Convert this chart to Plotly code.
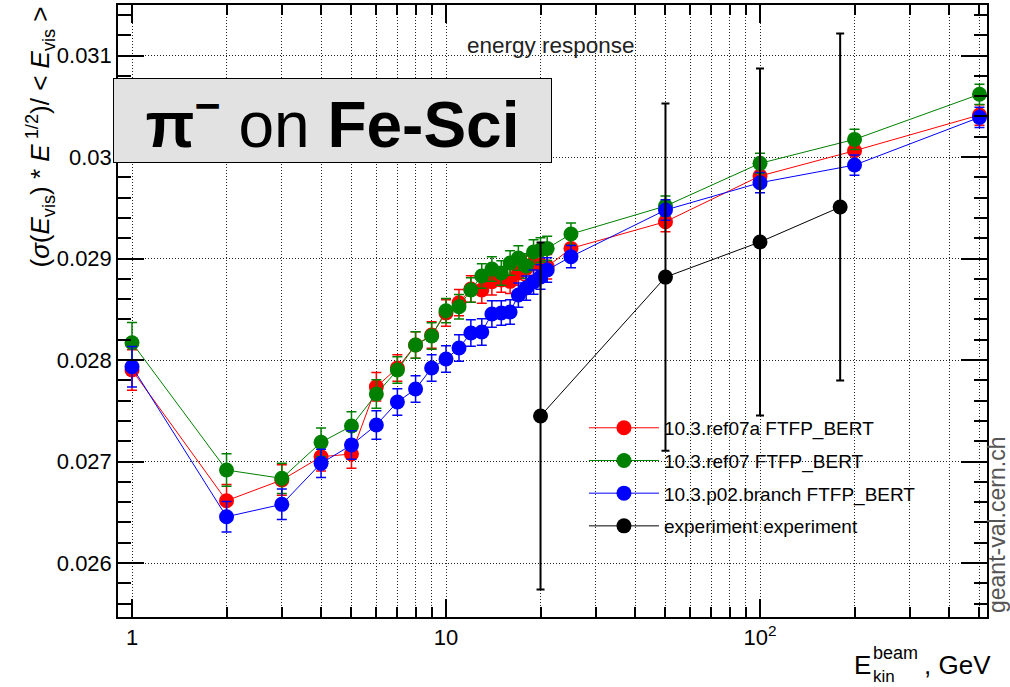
import plotly.graph_objects as go

# ---------------- data ----------------
energies_sim = [1, 2, 3, 4, 5, 6, 7, 8, 9, 10, 11, 12, 13, 14, 15, 16, 17, 18, 19, 20, 21, 25, 50, 100, 200, 500]

ref07a = [0.027901, 0.026614, 0.026818, 0.027047, 0.027074, 0.027737, 0.027921, 0.028148, 0.028246, 0.028463,
          0.028565, 0.028700, 0.028690, 0.028771, 0.028788, 0.028775, 0.028857, 0.028906, 0.028956, 0.028936,
          0.028919, 0.029100, 0.029363, 0.029813, 0.030062, 0.030414]
ref07a_err = [0.00020, 0.00016, 0.00015, 0.00014, 0.00014, 0.00014, 0.00013, 0.00013, 0.00013, 0.00013,
              0.00013, 0.00013, 0.00013, 0.00013, 0.00012, 0.00012, 0.00012, 0.00012, 0.00012, 0.00012,
              0.00012, 0.00011, 0.00010, 0.00010, 0.00010, 0.00010]

ref07 = [0.028170, 0.026916, 0.026834, 0.027189, 0.027350, 0.027665, 0.027901, 0.028148, 0.028236, 0.028486,
         0.028525, 0.028690, 0.028828, 0.028897, 0.028857, 0.028956, 0.029005, 0.028926, 0.029064, 0.029084,
         0.029100, 0.029241, 0.029517, 0.029938, 0.030174, 0.030618]
ref07_err = [0.00020, 0.00016, 0.00015, 0.00014, 0.00014, 0.00014, 0.00013, 0.00013, 0.00013, 0.00012,
             0.00012, 0.00012, 0.00012, 0.00012, 0.00012, 0.00012, 0.00012, 0.00012, 0.00012, 0.00012,
             0.00012, 0.00011, 0.00010, 0.00010, 0.00010, 0.00010]

p02_branch = [0.027934, 0.026456, 0.026578, 0.026982, 0.027163, 0.027360, 0.027586, 0.027714, 0.027921, 0.028010,
              0.028118, 0.028266, 0.028276, 0.028453, 0.028463, 0.028473, 0.028640, 0.028709, 0.028768, 0.028818,
              0.028887, 0.029018, 0.029478, 0.029747, 0.029921, 0.030391]
p02_branch_err = [0.00020, 0.00015, 0.00015, 0.00014, 0.00014, 0.00014, 0.00013, 0.00013, 0.00013, 0.00013,
                  0.00013, 0.00013, 0.00013, 0.00013, 0.00012, 0.00012, 0.00012, 0.00012, 0.00012, 0.00012,
                  0.00012, 0.00011, 0.00010, 0.00010, 0.00010, 0.00010]

energies_exp = [20, 50, 100, 180]
experiment = [0.027448, 0.028817, 0.029163, 0.029507]
experiment_err = [0.00171, 0.00171, 0.00171, 0.00171]

series_names = ["10.3.ref07a FTFP_BERT", "10.3.ref07 FTFP_BERT", "10.3.p02.branch FTFP_BERT", "experiment experiment"]
series_colors = ["#ff0000", "#008000", "#0000ff", "#000000"]

x_major = [1, 10, 100]
x_major_text = ["1", "10", "10<sup>2</sup>"]
x_minor = [2, 3, 4, 5, 6, 7, 8, 9, 20, 30, 40, 50, 60, 70, 80, 90, 200, 300, 400, 500]
y_major = [0.026, 0.027, 0.028, 0.029, 0.030, 0.031]
y_major_text = ["0.026", "0.027", "0.028", "0.029", "0.03", "0.031"]

FONT = "Liberation Sans, Arial, Helvetica, sans-serif"

# ---------------- figure ----------------
fig = go.Figure()

sim = [(energies_sim, ref07a, ref07a_err), (energies_sim, ref07, ref07_err), (energies_sim, p02_branch, p02_branch_err)]
for i, (xs, ys, es) in enumerate(sim):
    fig.add_trace(go.Scatter(
        x=xs, y=ys, mode="lines+markers", name=series_names[i], legendgroup=series_names[i],
        line=dict(color=series_colors[i], width=1),
        marker=dict(color=series_colors[i], size=15, line=dict(width=0)),
        error_y=dict(type="data", array=es, color=series_colors[i], thickness=1.5, width=5),
    ))

fig.add_trace(go.Scatter(
    x=energies_exp, y=experiment, mode="lines+markers", name=series_names[3], legendgroup=series_names[3],
    line=dict(color=series_colors[3], width=1),
    marker=dict(color=series_colors[3], size=15, line=dict(width=0)),
    error_y=dict(type="data", array=experiment_err, color=series_colors[3], thickness=2, width=4),
))

GRIDCOL = "#222222"
GRIDDASH = "1px,2px"

fig.update_xaxes(
    type="log", range=[-0.0446, 2.7229], automargin=False,
    tickmode="array", tickvals=x_major, ticktext=x_major_text,
    ticks="inside", ticklen=18, tickwidth=1.5, tickcolor="black",
    minor=dict(tickmode="array", tickvals=x_minor, ticks="inside", ticklen=10, tickwidth=1.5,
               tickcolor="black", showgrid=True, gridcolor=GRIDCOL, gridwidth=1, griddash=GRIDDASH),
    showline=True, linecolor="black", linewidth=1.5, mirror="allticks",
    tickfont=dict(family=FONT, size=22, color="black"),
    ticklabelstandoff=0,
    zeroline=False,
    showgrid=True, gridcolor=GRIDCOL, gridwidth=1, griddash=GRIDDASH,
)
fig.update_yaxes(
    range=[0.025468, 0.031498], automargin=False,
    tickmode="array", tickvals=y_major, ticktext=y_major_text,
    ticks="inside", ticklen=26, tickwidth=1.5, tickcolor="black",
    minor=dict(dtick=0.0002, tick0=0.026, ticks="inside", ticklen=13, tickwidth=1.5, tickcolor="black", showgrid=False),
    showline=True, linecolor="black", linewidth=1.5, mirror="allticks",
    tickfont=dict(family=FONT, size=22, color="black"),
    zeroline=False,
    showgrid=True, gridcolor=GRIDCOL, gridwidth=1, griddash=GRIDDASH,
)

fig.update_layout(
    template="none",
    width=1010, height=687,
    margin=dict(l=118, r=23, t=5, b=70, autoexpand=False),
    plot_bgcolor="white", paper_bgcolor="white",
    font=dict(family=FONT, color="black"),
    showlegend=True,
    legend=dict(x=0.5362, y=0.340, xanchor="left", yanchor="top", bgcolor="rgba(0,0,0,0)",
                borderwidth=0, font=dict(family=FONT, size=19, color="black"),
                tracegroupgap=5, itemwidth=70),
)

def px_x(p):
    return (p - 118) / 869.0

def px_y(p):
    return (617 - p) / 612.0

annots = [
    dict(text="energy response", x=px_x(551), y=px_y(46), font=dict(size=22.5, color="#222222"),
         xanchor="center", yanchor="middle"),
    dict(text="<b>π</b><sup><b>−</b></sup> on <b>Fe-Sci</b>", x=px_x(332.5), y=px_y(120.5),
         xanchor="center", yanchor="middle", font=dict(size=64, color="black"),
         bgcolor="#e2e2e2", bordercolor="black", borderwidth=1, borderpad=0, width=437, height=83),
    dict(text="(<i>σ</i>(<i>E</i><sub>vis</sub>) * <i>E</i><sup> 1/2</sup>)/ < <i>E</i><sub>vis</sub> >",
         x=px_x(40), y=px_y(5), xanchor="center", yanchor="top", textangle=-90,
         font=dict(size=26, color="black")),
    dict(text="E", x=px_x(862), y=px_y(665), xanchor="center", yanchor="middle", font=dict(size=26)),
    dict(text="beam", x=px_x(871), y=px_y(653), xanchor="left", yanchor="middle", font=dict(size=18)),
    dict(text="kin", x=px_x(871), y=px_y(676), xanchor="left", yanchor="middle", font=dict(size=17)),
    dict(text=", GeV", x=px_x(922), y=px_y(665), xanchor="left", yanchor="middle", font=dict(size=26)),
    dict(text="geant-val.cern.ch", x=px_x(997), y=px_y(615), xanchor="center", yanchor="bottom",
         textangle=-90, font=dict(size=23, color="#555555")),
]
for a in annots:
    a.setdefault("xref", "paper")
    a.setdefault("yref", "paper")
    a.setdefault("showarrow", False)
    f = a.get("font", {})
    f.setdefault("family", FONT)
    f.setdefault("color", "black")
    a["font"] = f
    fig.add_annotation(**a)

fig.write_html("out.html", config={"displayModeBar": False},
               post_script="document.body.style.margin='0';document.body.style.overflow='hidden';")
